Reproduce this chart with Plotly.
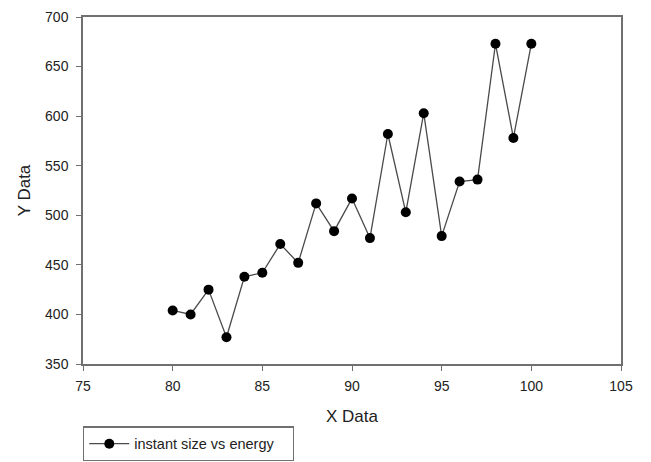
import plotly.graph_objects as go

x_vals = list(range(80, 101))
y_vals = [404, 400, 425, 377, 438, 442, 471, 452, 512, 484, 517, 477,
          582, 503, 603, 479, 534, 536, 673, 578, 673]
series_name = "instant size vs energy"
x_ticks = [75, 80, 85, 90, 95, 100, 105]
y_ticks = [350, 400, 450, 500, 550, 600, 650, 700]

FONT = "Liberation Sans, Arial"

fig = go.Figure()
fig.add_trace(go.Scatter(
    x=x_vals, y=y_vals, mode="lines+markers", name=series_name,
    line=dict(color="#4a4a4a", width=1.3),
    marker=dict(color="black", size=10),
))

axis_common = dict(
    showgrid=False, zeroline=False, showline=True, linecolor="#707070",
    linewidth=1.5, mirror=True, ticks="outside", ticklen=5, tickwidth=1.3,
    tickcolor="#707070", tickfont=dict(family=FONT, size=14, color="#222"),
)

fig.update_layout(
    width=651, height=462,
    margin=dict(l=83, r=30, t=17, b=98, autoexpand=False),
    paper_bgcolor="white", plot_bgcolor="white",
    showlegend=True,
    legend=dict(x=0, y=-0.18, xanchor="left", yanchor="top",
                orientation="h", entrywidth=153,
                bordercolor="#707070", borderwidth=1.3,
                font=dict(family=FONT, size=14.5, color="#222"),
                itemwidth=40),
    xaxis=dict(range=[75, 105], tickvals=x_ticks, ticklabelstandoff=3,
               title=dict(text="X Data", font=dict(family=FONT, size=17, color="#222"), standoff=18),
               **axis_common),
    yaxis=dict(range=[350, 700], tickvals=y_ticks, ticklabelstandoff=5,
               title=dict(text="Y Data", font=dict(family=FONT, size=17, color="#222"), standoff=10),
               **axis_common),
)

fig.write_html("out.html")
